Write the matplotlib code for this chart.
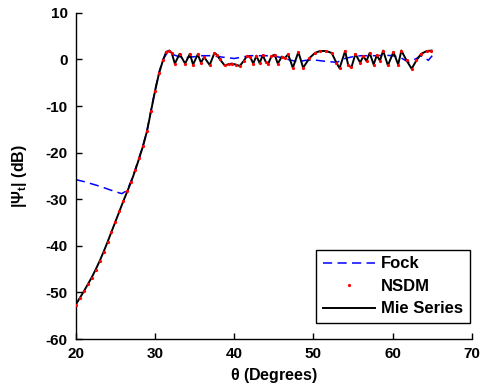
import matplotlib
matplotlib.use("Agg")
import matplotlib.pyplot as plt

# ---- data ----
mie_theta = [20.0, 20.5, 21.0, 21.5, 22.0, 22.5, 23.0, 23.5, 24.0, 24.5, 25.0, 25.5,
             26.0, 26.5, 27.0, 27.5, 28.0, 28.5, 29.0, 29.5, 30.0, 30.5, 31.0, 31.4,
             31.8, 32.1, 32.5, 33.1, 33.8, 34.4, 34.8, 35.4, 35.8, 36.2, 36.9, 37.5,
             37.8, 38.2, 38.8, 39.3, 39.7, 40.2, 40.7, 41.2, 41.6, 42.0, 42.4, 42.8,
             43.2, 43.6, 44.0, 44.3, 44.7, 45.1, 45.5, 46.0, 46.4, 46.8, 47.4, 48.1,
             48.7, 49.5, 50.2, 50.8, 51.6, 52.3, 52.9, 53.3, 54.0, 54.4, 54.8, 55.3,
             55.9, 56.3, 56.7, 57.1, 57.6, 58.0, 58.4, 58.8, 59.4, 60.1, 60.7, 61.1,
             61.75, 62.4, 63.0, 63.6, 64.3, 64.9]
mie_db = [-52.6, -51.2, -49.8, -48.3, -46.8, -45.1, -43.3, -41.3, -39.2, -37.0, -34.8, -32.6,
          -30.4, -28.3, -26.2, -23.8, -21.2, -18.5, -15.3, -11.0, -6.8, -3.0, -0.2, 1.6,
          1.9, 1.4, -0.9, 1.2, -0.9, 1.2, -1.1, 1.1, -0.7, 0.5, -1.2, 1.4,
          1.0, 0.0, -1.3, -1.0, -0.9, -1.1, -1.4, -0.3, 0.7, 0.6, -0.9, 0.8,
          -0.8, 0.9, -0.6, -0.9, 0.7, 1.0, -0.9, 0.6, 0.3, 1.1, -1.8, 1.6,
          -1.8, 0.3, 1.4, 1.8, 1.8, 1.4, -0.7, -1.9, 1.8, -1.3, -1.7, 1.2,
          -0.7, 0.7, -0.35, 1.4, -1.1, 0.9, -0.3, 1.9, -1.3, 1.6, -1.1, 1.9,
          -0.2, -2.0, -0.2, 1.2, 1.8, 1.9]
nsdm_theta = list(mie_theta)
nsdm_db = list(mie_db)

fock_theta = [20.0, 21.0, 22.0, 23.0, 24.0, 25.0, 25.8, 26.3, 26.7, 27.0, 27.5, 28.0,
              28.5, 29.0, 29.5, 30.0, 30.5, 31.0, 31.5, 32.0, 33.0, 34.0, 35.0, 36.0,
              37.0, 38.0, 39.0, 40.0, 41.0, 42.0, 43.0, 44.0, 45.0, 46.0, 47.0, 48.0,
              49.0, 50.0, 51.0, 52.0, 53.0, 54.0, 55.0, 56.0, 57.0, 58.0, 59.0, 60.0,
              61.0, 62.0, 63.0, 63.5, 64.0, 64.5, 65.0]
fock_db = [-25.8, -26.2, -26.7, -27.2, -27.8, -28.4, -28.8, -28.3, -27.2, -26.0, -23.6, -21.0,
           -18.3, -15.1, -10.8, -6.6, -2.8, 0.0, 1.3, 1.2, 0.6, 0.4, 0.6, 0.8,
           0.8, 0.6, 0.4, 0.2, 0.5, 0.8, 0.8, 0.8, 0.7, 0.4, -0.1, -0.5,
           -0.2, -0.1, -0.3, -0.5, -0.6, 0.2, 0.6, 0.8, 0.8, 0.8, 0.9, 0.8,
           0.4, -0.6, 0.2, 0.8, 0.5, -0.2, 0.8]

x_ticks = [20, 30, 40, 50, 60, 70]
y_ticks = [-60, -50, -40, -30, -20, -10, 0, 10]

# ---- style ----
plt.rcParams['font.family'] = ['Liberation Sans', 'DejaVu Sans']
plt.rcParams['font.weight'] = 'bold'
plt.rcParams['axes.unicode_minus'] = False
plt.rcParams['mathtext.fontset'] = 'custom'
plt.rcParams['mathtext.rm'] = 'Liberation Sans:bold'
plt.rcParams['mathtext.bf'] = 'Liberation Sans:bold'
plt.rcParams['mathtext.it'] = 'Liberation Sans:bold'

fig = plt.figure(figsize=(4.8, 3.89), dpi=100)
ax = fig.add_axes([0.158, 0.1285, 0.825, 0.8385])

ax.plot(fock_theta, fock_db, color='#0000ff', lw=1.1, dashes=(6, 3.5), label='Fock', zorder=2)
ax.plot(nsdm_theta, nsdm_db, linestyle='none', marker='.', ms=2.6, color='#ff0000',
        label='NSDM', zorder=4)
ax.plot(mie_theta, mie_db, color='black', lw=1.4, label='Mie Series', zorder=3)

ax.set_xlim(20, 70)
ax.set_ylim(-60, 10)
ax.set_xticks(x_ticks)
ax.set_yticks(y_ticks)
ax.tick_params(direction='in', length=4, width=1, labelsize=11)
ax.tick_params(axis='x', pad=6)
ax.tick_params(axis='y', pad=6)
for lab in ax.get_xticklabels() + ax.get_yticklabels():
    lab.set_fontweight('bold')
ax.spines['top'].set_visible(False)
ax.spines['right'].set_visible(False)
ax.spines['left'].set_linewidth(1)
ax.spines['bottom'].set_linewidth(1)

ax.set_xlabel(r'$\theta$ (Degrees)', fontsize=11.5, fontweight='bold', labelpad=3)
ax.set_ylabel(r'|$\Psi_t$| (dB)', fontsize=11.5, fontweight='bold', labelpad=12)

leg = ax.legend(loc='lower right', fontsize=12, frameon=True, fancybox=False,
                edgecolor='black', framealpha=1, handlelength=3.1, borderpad=0.4,
                labelspacing=0.45, handletextpad=0.4, borderaxespad=0,
                bbox_to_anchor=(0.995, 0.049))
leg.get_frame().set_linewidth(1)
for t in leg.get_texts():
    t.set_fontweight('bold')

fig.savefig('out.png', dpi=100)
